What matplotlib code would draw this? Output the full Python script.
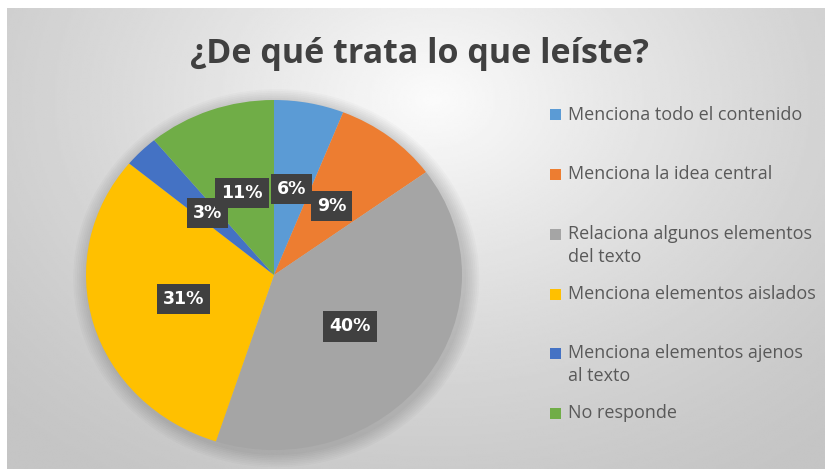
import numpy as np
import matplotlib
matplotlib.use("Agg")
import matplotlib.pyplot as plt
from matplotlib.patches import Rectangle, Ellipse

# ---- data ----
title = "¿De qué trata lo que leíste?"
categories = [
    "Menciona todo el contenido",
    "Menciona la idea central",
    "Relaciona algunos elementos\ndel texto",
    "Menciona elementos aislados",
    "Menciona elementos ajenos\nal texto",
    "No responde",
]
values = [6, 9, 40, 31, 3, 11]
colors = ["#5B9BD5", "#ED7D31", "#A5A5A5", "#FFC000", "#4472C4", "#70AD47"]

W, H = 825, 469
fig = plt.figure(figsize=(W / 100, H / 100), dpi=100)
fig.patch.set_facecolor("white")

# ---- background frame with radial gradient ----
bg = fig.add_axes([7 / W, 0, 1 - 7 / W, 1 - 8 / H])
bg.set_axis_off()
nx, ny = 400, 230
xx, yy = np.meshgrid(np.linspace(0, 1, nx), np.linspace(0, 1, ny))
d = np.sqrt(((xx - 0.52) / 0.75) ** 2 + ((yy - 0.2) / 1.0) ** 2)
d = np.clip(d, 0, 1)
c0, c1 = 0.985, 0.77
img = c1 + (c0 - c1) * (1 - d) ** 1.3
bg.imshow(img, cmap="gray", vmin=0, vmax=1, extent=[0, 1, 1, 0], aspect="auto",
          interpolation="bilinear")
bg.set_xlim(0, 1)
bg.set_ylim(1, 0)

# ---- pie ----
cx, cy, rx, ry = 274, 275, 188, 175
ax = fig.add_axes([(cx - rx) / W, (H - cy - ry) / H, 2 * rx / W, 2 * ry / H])
# soft shadow
for k in range(8):
    s = 1.0 + 0.01 * (k + 1)
    ax.add_patch(Ellipse((0.012, -0.018), 2 * s, 2 * s, facecolor="black",
                         edgecolor="none", alpha=0.02, zorder=0, clip_on=False))
wedges, texts, autotexts = ax.pie(
    values, colors=colors, startangle=90, counterclock=False,
    autopct=lambda p: f"{p:.0f}%", pctdistance=0.5, radius=1.0,
    wedgeprops=dict(linewidth=0, zorder=1),
    textprops=dict(color="white", fontsize=12.5, fontweight="bold",
                   family="DejaVu Sans"),
)
for t in autotexts:
    t.set_zorder(5)
    t.set_bbox(dict(boxstyle="square,pad=0.35", facecolor="#404040",
                    edgecolor="none"))
ax.set_aspect("auto")
ax.set_xlim(-1, 1)
ax.set_ylim(-1, 1)
ax.set_axis_off()

# ---- title ----
fig.text(419 / W, 1 - 63 / H, title, ha="center", va="baseline",
         fontsize=24.5, fontweight="bold", family="Open Sans", color="#404040")

# ---- legend ----
baselines = np.linspace(119.5, 418, len(categories))
for cat, col, y in zip(categories, colors, baselines):
    fig.patches.append(Rectangle((550 / W, 1 - (y + 1) / H), 11 / W, 11 / H,
                                 transform=fig.transFigure, facecolor=col,
                                 edgecolor="none"))
    first, *rest = cat.split("\n")
    fig.text(568 / W, 1 - y / H, first, ha="left", va="baseline",
             fontsize=13, family="Open Sans", color="#595959")
    for i, line in enumerate(rest, start=1):
        fig.text(568 / W, 1 - (y + 23 * i) / H, line, ha="left", va="baseline",
                 fontsize=13, family="Open Sans", color="#595959")

fig.savefig("out.png", dpi=100, facecolor="white")
